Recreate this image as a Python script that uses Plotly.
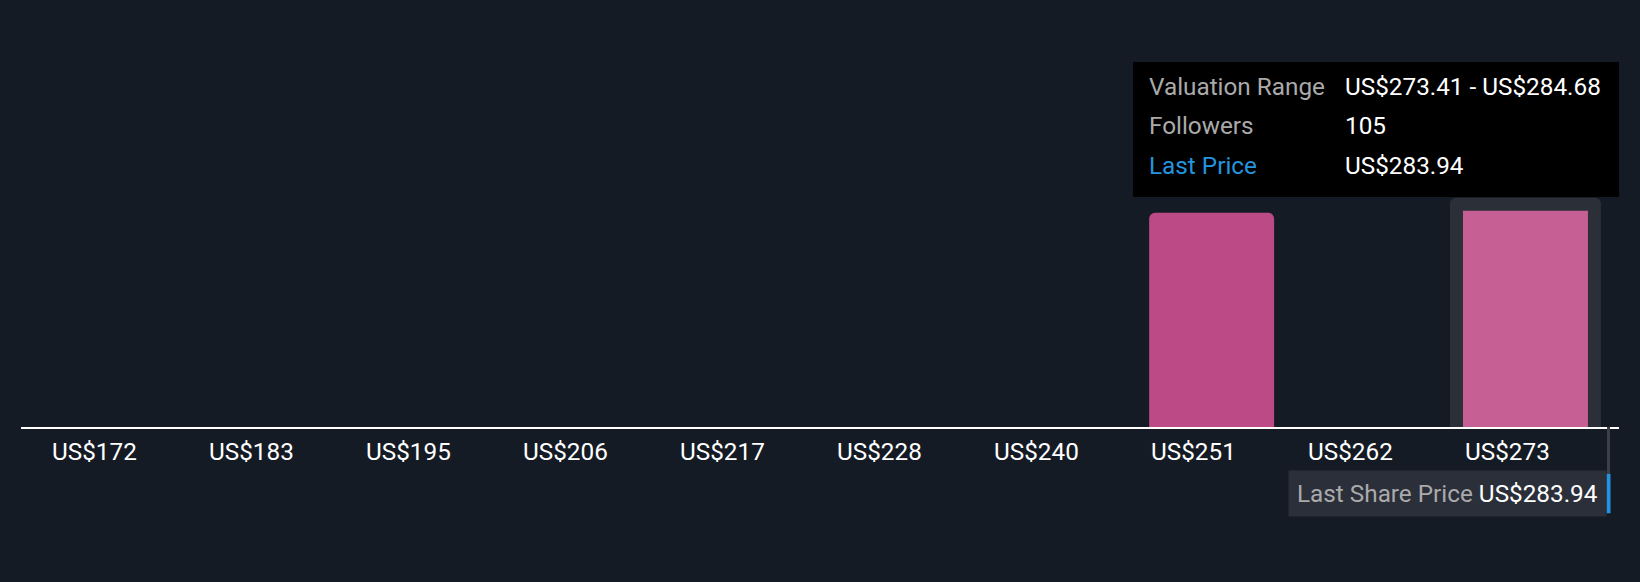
import plotly.graph_objects as go

# valuation bins (lower edge of each bin) and follower counts
bin_starts = [172.00, 183.27, 194.54, 205.81, 217.07, 228.34, 239.61, 250.88, 262.14, 273.41]
bin_end = 284.68
bin_labels = ["US$172", "US$183", "US$195", "US$206", "US$217",
              "US$228", "US$240", "US$251", "US$262", "US$273"]
followers = [0, 0, 0, 0, 0, 0, 0, 104, 0, 105]
last_price = 283.94
hover_idx = 9  # bin shown in the tooltip

BG = "#151b24"
PINK = "#bb4a87"
PINK_HOVER = "#c55f94"
BLUE = "#2394df"
GREY_TXT = "#aaaaaa"
FONT = "Roboto"
FS = 24.3

bin_w = bin_starts[1] - bin_starts[0]
centers = [s + bin_w / 2 for s in bin_starts]
bar_w = 0.796 * bin_w
colors = [PINK_HOVER if i == hover_idx else PINK for i in range(len(bin_starts))]

fig = go.Figure()

# hover band behind the highlighted bin
fig.add_trace(go.Bar(
    x=[centers[hover_idx]], y=[followers[hover_idx] * 1.06],
    width=[0.962 * bin_w], marker_color="#2b2f38",
    marker_line_width=0, hoverinfo="skip", showlegend=False))

fig.add_trace(go.Bar(
    x=centers, y=followers, width=[bar_w] * len(centers),
    marker_color=colors, marker_line_width=0,
    hoverinfo="skip", showlegend=False))

# invisible point so the price axis exists
fig.add_trace(go.Scatter(
    x=[last_price], y=[0], xaxis="x2", mode="markers",
    marker=dict(opacity=0), hoverinfo="skip", showlegend=False))

# tick labels, left aligned to each bar
for c, lab in zip(centers, bin_labels):
    fig.add_annotation(x=c - bar_w / 2, y=-0.059, xref="x", yref="paper",
                       text=lab, showarrow=False, xanchor="left", yanchor="middle",
                       font=dict(family=FONT, size=FS, color="white"))

# last price marker
fig.add_shape(type="line", xref="x2", yref="paper", x0=last_price, x1=last_price,
              y0=0, y1=-0.115, line=dict(color="#3a3f4a", width=3))
fig.add_shape(type="line", xref="x2", yref="paper", x0=last_price, x1=last_price,
              y0=-0.115, y1=-0.212, line=dict(color=BLUE, width=4))
fig.add_annotation(
    x=last_price, y=-0.1634, xref="x2", yref="paper", xanchor="right", yanchor="middle",
    xshift=-2, showarrow=False, bgcolor="#2b2f3a", borderpad=8,
    text=f"<span style='color:{GREY_TXT}'>Last Share Price</span> US${last_price:.2f}",
    font=dict(family=FONT, size=FS, color="white"))

# tooltip box
fig.add_shape(type="rect", xref="paper", yref="paper", x0=0.6959, x1=1.0,
              y0=0.5651, y1=0.8968, fillcolor="black", line_width=0, layer="above")
rows = [
    ("Valuation Range", GREY_TXT,
     f"US${bin_starts[hover_idx]:.2f} - US${bin_end:.2f}"),
    ("Followers", GREY_TXT, f"{followers[hover_idx]}"),
    ("Last Price", BLUE, f"US${last_price:.2f}"),
]
for (lab, col, val), ry in zip(rows, [0.8378, 0.7408, 0.6437]):
    fig.add_annotation(x=0.7047, y=ry, xref="paper", yref="paper", text=lab,
                       showarrow=False, xanchor="left", yanchor="middle",
                       font=dict(family=FONT, size=FS, color=col))
    fig.add_annotation(x=0.8272, y=ry, xref="paper", yref="paper", text=val,
                       showarrow=False, xanchor="left", yanchor="middle",
                       font=dict(family=FONT, size=FS, color="white"))

fig.update_layout(
    width=1640, height=582,
    margin=dict(l=21, r=21, t=20, b=155),
    paper_bgcolor=BG, plot_bgcolor=BG,
    barmode="overlay", barcornerradius=6,
    showlegend=False,
    xaxis=dict(range=[bin_starts[0] - 0.96, bin_end + 1.08], showgrid=False,
               zeroline=False, showticklabels=False, ticks="",
               showline=True, linecolor="white", linewidth=2),
    xaxis2=dict(range=[bin_starts[0], bin_end], overlaying="x", visible=False),
    yaxis=dict(range=[0, 197.6], visible=False, showgrid=False, zeroline=False),
)

# drop the default page margin so the figure sits at the top-left corner
fig.write_html("out.html", config={"displayModeBar": False},
               post_script="document.body.style.margin='0';"
                           f"document.body.style.background='{BG}';")
